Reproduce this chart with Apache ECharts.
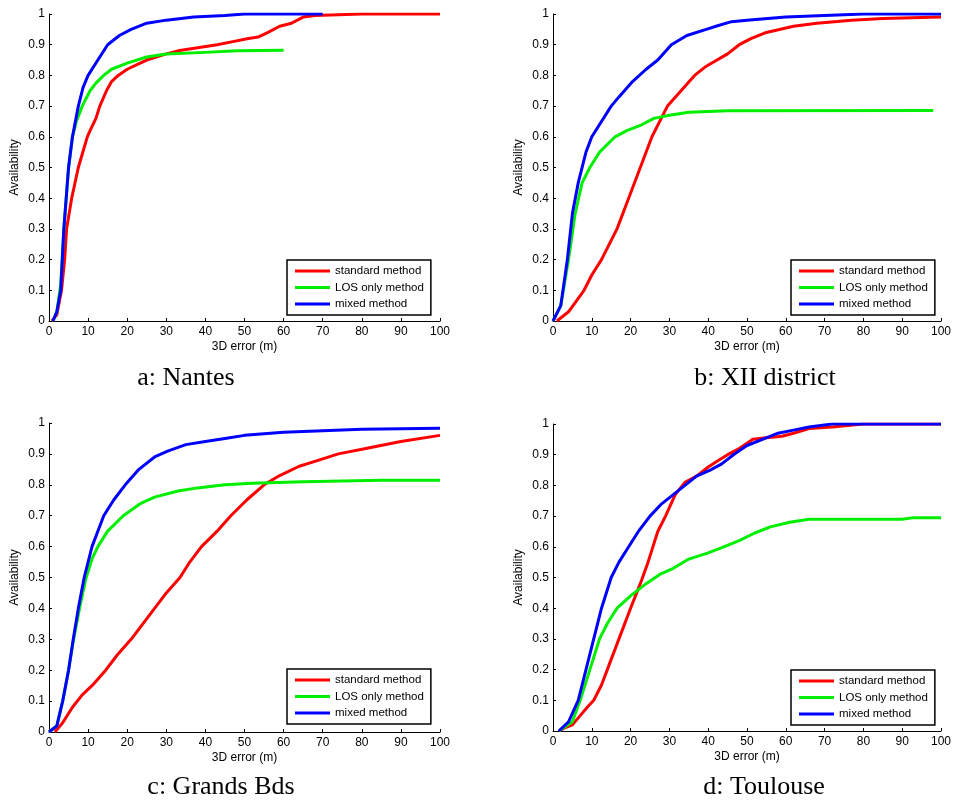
<!DOCTYPE html>
<html lang="en">
<head>
    <meta charset="UTF-8">
    <title>Availability vs 3D error</title>
    <style>
        html, body { margin: 0; padding: 0; background: #fff; }
        #chart { width: 954px; height: 801px; }
    </style>
    <script src="https://cdn.jsdelivr.net/npm/echarts@6/dist/echarts.min.js"></script>
</head>
<body>
    <div id="chart"></div>
    <script>
        // series names and tick labels
        const methods = ['standard method', 'LOS only method', 'mixed method'];
        const colors = ['#ff0000', '#00ee00', '#0000ff'];
        const xTicks = [0, 10, 20, 30, 40, 50, 60, 70, 80, 90, 100];
        const yTicks = [0, 0.1, 0.2, 0.3, 0.4, 0.5, 0.6, 0.7, 0.8, 0.9, 1];
        const captions = ['a: Nantes', 'b: XII district', 'c: Grands Bds', 'd: Toulouse'];

        // a: Nantes  [error (m), availability]
        const nantesStd = [[0.7, 0], [2, 0.02], [3.2, 0.1], [4, 0.2], [4.5, 0.3], [5.8, 0.4], [7.5, 0.5], [9.8, 0.6], [10.5, 0.62], [12, 0.66], [13, 0.7], [14.7, 0.75], [16, 0.78], [17.7, 0.8], [20, 0.82], [22.5, 0.835], [25, 0.85], [30, 0.87], [33, 0.88], [38, 0.89], [43, 0.9], [47, 0.91], [51, 0.92], [53.5, 0.925], [56, 0.94], [59, 0.96], [62, 0.97], [65, 0.99], [68, 0.995], [80, 1], [100, 1]];
        const nantesLos = [[1, 0], [2, 0.03], [3, 0.12], [3.8, 0.3], [5, 0.5], [6, 0.6], [7, 0.65], [8.5, 0.7], [10.5, 0.75], [12, 0.775], [14, 0.8], [16, 0.82], [20, 0.84], [25, 0.86], [30, 0.87], [40, 0.875], [48, 0.88], [60, 0.882]];
        const nantesMix = [[1, 0], [2, 0.03], [3, 0.1], [3.8, 0.3], [5, 0.5], [6, 0.6], [7.5, 0.7], [8.7, 0.76], [10, 0.8], [12.5, 0.85], [15, 0.9], [18, 0.93], [21, 0.95], [25, 0.97], [30, 0.98], [37, 0.99], [45, 0.995], [50, 1], [70, 1]];

        // b: XII district
        const xiiStd = [[1, 0], [4, 0.03], [8, 0.1], [10, 0.15], [12.5, 0.2], [16.5, 0.3], [19.5, 0.4], [22.5, 0.5], [25.5, 0.6], [29.5, 0.7], [33, 0.75], [36.5, 0.8], [39.5, 0.83], [45, 0.87], [48, 0.9], [51, 0.92], [55, 0.94], [62, 0.96], [68, 0.97], [77, 0.98], [85, 0.985], [100, 0.99]];
        const xiiLos = [[0, 0], [2, 0.05], [4, 0.2], [5.7, 0.35], [7.5, 0.45], [9.5, 0.5], [12, 0.55], [16, 0.6], [19, 0.62], [23, 0.64], [26, 0.66], [30, 0.67], [35, 0.68], [45, 0.685], [98, 0.686]];
        const xiiMix = [[0, 0], [2, 0.05], [3.7, 0.2], [5, 0.35], [6.5, 0.45], [8.5, 0.55], [10, 0.6], [12, 0.64], [15, 0.7], [17, 0.73], [20.5, 0.78], [24, 0.82], [27, 0.85], [30.5, 0.9], [34.5, 0.93], [39.5, 0.95], [42, 0.96], [46, 0.975], [50, 0.98], [60, 0.99], [70, 0.995], [80, 1], [100, 1]];

        // c: Grands Bds
        const bdsStd = [[1.5, 0], [3.5, 0.03], [6, 0.08], [8.5, 0.12], [11, 0.15], [14.5, 0.2], [17.5, 0.25], [21, 0.3], [24, 0.35], [27, 0.4], [30, 0.45], [33.5, 0.5], [36, 0.55], [39, 0.6], [43, 0.65], [46.5, 0.7], [50.5, 0.75], [55, 0.8], [59, 0.83], [64, 0.86], [69, 0.88], [74, 0.9], [82, 0.92], [90, 0.94], [100, 0.96]];
        const bdsLos = [[0, 0], [2, 0.02], [3.5, 0.1], [5, 0.2], [6.3, 0.3], [7.8, 0.4], [9.5, 0.5], [11, 0.56], [12.5, 0.6], [15, 0.65], [19, 0.7], [23.5, 0.74], [27, 0.76], [33, 0.78], [38, 0.79], [45, 0.8], [52, 0.805], [65, 0.81], [85, 0.815], [100, 0.815]];
        const bdsMix = [[0, 0], [2, 0.02], [3.5, 0.1], [5, 0.2], [6.2, 0.3], [7.5, 0.4], [9, 0.5], [11, 0.6], [14, 0.7], [16.5, 0.75], [19.5, 0.8], [23, 0.85], [27, 0.89], [30.5, 0.91], [35, 0.93], [40, 0.94], [45, 0.95], [50, 0.96], [60, 0.97], [70, 0.975], [80, 0.98], [100, 0.983]];

        // d: Toulouse
        const touStd = [[1.5, 0], [3, 0.01], [5, 0.02], [7, 0.05], [9, 0.08], [10.5, 0.1], [12.5, 0.15], [14, 0.2], [17, 0.3], [20, 0.4], [22.5, 0.48], [24.5, 0.55], [27, 0.65], [29, 0.7], [31.5, 0.77], [34, 0.81], [37, 0.83], [40, 0.86], [42.5, 0.88], [45, 0.9], [48, 0.92], [51.5, 0.95], [55, 0.955], [59, 0.96], [62, 0.97], [66, 0.985], [72, 0.99], [80, 1], [100, 1]];
        const touLos = [[1.5, 0], [5, 0.03], [7, 0.1], [9.5, 0.2], [12, 0.3], [14, 0.35], [16.5, 0.4], [20, 0.44], [24, 0.48], [27.5, 0.51], [31, 0.53], [35, 0.56], [40, 0.58], [44, 0.6], [48, 0.62], [52, 0.645], [56, 0.665], [61, 0.68], [66, 0.69], [90, 0.69], [93, 0.695], [100, 0.695]];
        const touMix = [[1.5, 0], [4, 0.03], [6.5, 0.1], [8.5, 0.2], [10.5, 0.3], [12.5, 0.4], [15, 0.5], [17, 0.55], [19.5, 0.6], [22, 0.65], [25, 0.7], [28, 0.74], [31, 0.77], [34, 0.8], [37, 0.83], [40.5, 0.85], [43.5, 0.87], [46.5, 0.9], [50, 0.93], [54, 0.95], [58, 0.97], [62, 0.98], [66, 0.99], [72, 1], [100, 1]];

        const panels = [
            [nantesStd, nantesLos, nantesMix],
            [xiiStd, xiiLos, xiiMix],
            [bdsStd, bdsLos, bdsMix],
            [touStd, touLos, touMix]
        ];

        // layout of the four panels
        const grids = [
            { left: 49, top: 14, width: 391, height: 307 },
            { left: 553, top: 14, width: 391, height: 307 },
            { left: 49, top: 423, width: 391, height: 309 },
            { left: 553, top: 424, width: 391, height: 307 }
        ];
        const legendPos = [[287, 260], [791, 260], [287, 669], [791, 670]];
        const captionPos = [[186, 378], [765, 378], [221, 787], [764, 787]];

        const axisFont = { fontFamily: 'Arial, "Liberation Sans", sans-serif', fontSize: 12, color: '#000' };

        let chart = echarts.init(document.getElementById('chart'));

        let xAxis = grids.map((g, i) => ({
            type: 'value',
            gridIndex: i,
            min: xTicks[0],
            max: xTicks[xTicks.length - 1],
            interval: 10,
            name: '3D error (m)',
            nameLocation: 'middle',
            nameGap: 20,
            nameTextStyle: axisFont,
            axisLine: { lineStyle: { color: '#000', width: 1 } },
            axisTick: { inside: true, length: 3, lineStyle: { color: '#000' } },
            axisLabel: Object.assign({ margin: 5 }, axisFont),
            splitLine: { show: false }
        }));

        let yAxis = grids.map((g, i) => ({
            type: 'value',
            gridIndex: i,
            min: yTicks[0],
            max: yTicks[yTicks.length - 1],
            interval: 0.1,
            name: 'Availability',
            nameLocation: 'middle',
            nameGap: 28,
            nameTextStyle: axisFont,
            axisLine: { show: true, lineStyle: { color: '#000', width: 1 } },
            axisTick: { show: true, inside: true, length: 3, lineStyle: { color: '#000' } },
            axisLabel: Object.assign({ margin: 4, formatter: v => String(Math.round(v * 10) / 10) }, axisFont),
            splitLine: { show: false }
        }));

        let series = [];
        panels.forEach((lines, i) => {
            lines.forEach((d, k) => {
                series.push({
                    name: methods[k],
                    type: 'line',
                    xAxisIndex: i,
                    yAxisIndex: i,
                    data: d,
                    symbol: 'none',
                    lineStyle: { color: colors[k], width: 3, join: 'round' },
                    itemStyle: { color: colors[k] },
                    animation: false
                });
            });
        });

        let legend = legendPos.map(p => ({
            left: p[0],
            top: p[1],
            orient: 'vertical',
            data: methods,
            icon: 'rect',
            itemWidth: 35,
            itemHeight: 3,
            itemGap: 4.5,
            itemTextGap: 4,
            padding: [5, 7, 5, 8],
            borderColor: '#000',
            borderWidth: 1.5,
            backgroundColor: '#fff',
            selectedMode: false,
            textStyle: { fontFamily: axisFont.fontFamily, fontSize: 11.5, color: '#000' }
        }));

        let option = {
            backgroundColor: '#fff',
            animation: false,
            grid: grids,
            xAxis: xAxis,
            yAxis: yAxis,
            legend: legend,
            series: series,
            graphic: captions.map((c, i) => ({
                type: 'text',
                x: captionPos[i][0],
                y: captionPos[i][1],
                style: {
                    text: c,
                    font: '26px "Liberation Serif", "Times New Roman", serif',
                    fill: '#000',
                    align: 'center',
                    verticalAlign: 'middle'
                }
            }))
        };

        chart.setOption(option);
    </script>
</body>
</html>
